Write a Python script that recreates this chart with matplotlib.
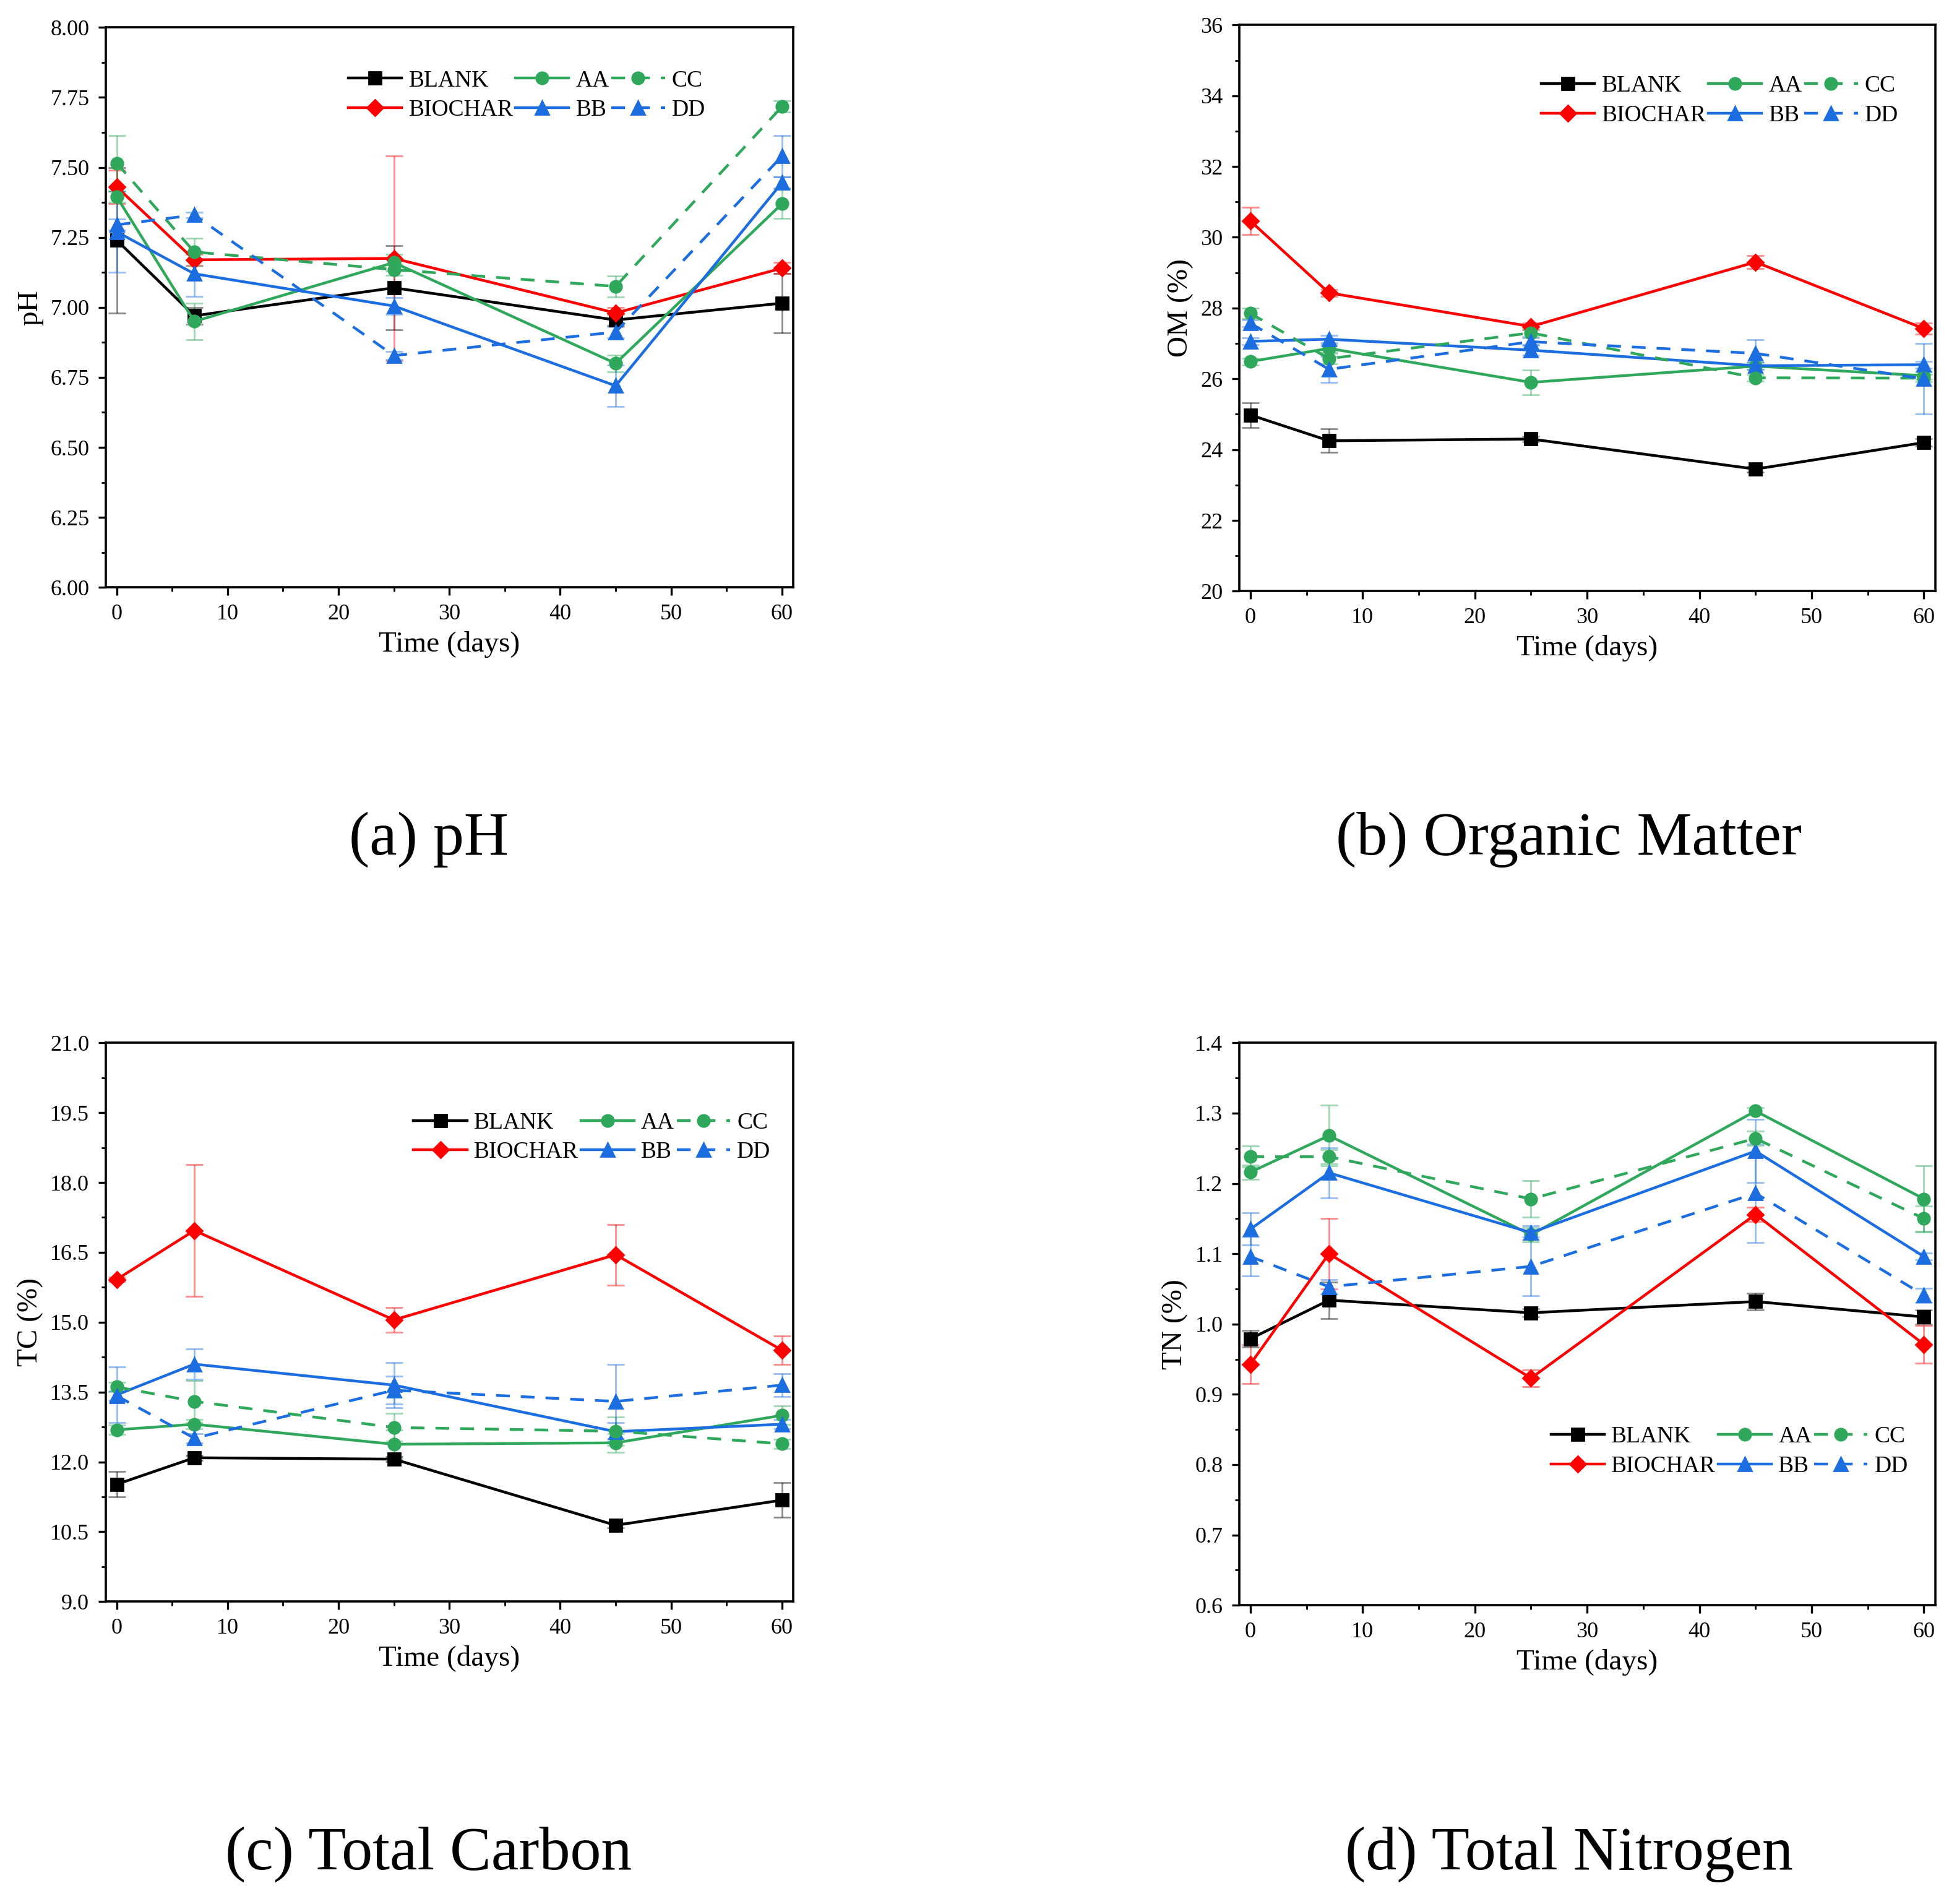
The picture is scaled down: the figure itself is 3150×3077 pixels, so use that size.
import matplotlib
matplotlib.use("Agg")
import matplotlib.pyplot as plt
from matplotlib.ticker import MultipleLocator, FormatStrFormatter

plt.rcParams["font.family"] = ["Liberation Serif", "DejaVu Serif"]

days = [0, 7, 25, 45, 60]
labels = ["BLANK", "BIOCHAR", "AA", "BB", "CC", "DD"]

# ---- pH ---------------------------------------------------------------
ph = {
    "BLANK":   [7.24, 6.97, 7.07, 6.955, 7.015],
    "BIOCHAR": [7.43, 7.17, 7.175, 6.98, 7.14],
    "AA":      [7.395, 6.95, 7.16, 6.80, 7.37],
    "BB":      [7.27, 7.12, 7.005, 6.72, 7.445],
    "CC":      [7.515, 7.198, 7.135, 7.075, 7.717],
    "DD":      [7.295, 7.33, 6.828, 6.912, 7.54],
}
ph_err = {
    "BLANK":   [0.26, 0.03, 0.15, 0.02, 0.105],
    "BIOCHAR": [0.06, 0.02, 0.365, 0.02, 0.02],
    "AA":      [0.02, 0.065, 0.03, 0.03, 0.053],
    "BB":      [0.145, 0.08, 0.03, 0.075, 0.02],
    "CC":      [0.10, 0.05, 0.02, 0.037, 0.02],
    "DD":      [0.02, 0.01, 0.015, 0.02, 0.075],
}

# ---- Organic matter ---------------------------------------------------
om = {
    "BLANK":   [24.98, 24.25, 24.3, 23.45, 24.2],
    "BIOCHAR": [30.46, 28.43, 27.48, 29.3, 27.42],
    "AA":      [26.49, 26.86, 25.9, 26.36, 26.09],
    "BB":      [27.06, 27.12, 26.81, 26.37, 26.4],
    "CC":      [27.85, 26.57, 27.3, 26.03, 26.02],
    "DD":      [27.57, 26.27, 27.05, 26.72, 26.0],
}
om_err = {
    "BLANK":   [0.35, 0.33, 0.08, 0.08, 0.1],
    "BIOCHAR": [0.38, 0.1, 0.1, 0.19, 0.15],
    "AA":      [0.1, 0.1, 0.35, 0.1, 0.1],
    "BB":      [0.1, 0.1, 0.15, 0.1, 0.1],
    "CC":      [0.15, 0.15, 0.1, 0.1, 0.1],
    "DD":      [0.1, 0.37, 0.1, 0.38, 1.0],
}

# ---- Total carbon -----------------------------------------------------
tc = {
    "BLANK":   [11.52, 12.09, 12.06, 10.64, 11.18],
    "BIOCHAR": [15.92, 16.97, 15.05, 16.45, 14.40],
    "AA":      [12.69, 12.81, 12.38, 12.41, 13.0],
    "BB":      [13.44, 14.10, 13.65, 12.65, 12.81],
    "CC":      [13.61, 13.30, 12.74, 12.66, 12.39],
    "DD":      [13.42, 12.51, 13.54, 13.30, 13.65],
}
tc_err = {
    "BLANK":   [0.27, 0.05, 0.05, 0.05, 0.37],
    "BIOCHAR": [0.05, 1.42, 0.27, 0.65, 0.30],
    "AA":      [0.1, 0.1, 0.3, 0.2, 0.2],
    "BB":      [0.6, 0.32, 0.48, 0.2, 0.1],
    "CC":      [0.1, 0.45, 0.3, 0.3, 0.1],
    "DD":      [0.1, 0.1, 0.3, 0.8, 0.25],
}

# ---- Total nitrogen ---------------------------------------------------
tn = {
    "BLANK":   [0.979, 1.034, 1.016, 1.032, 1.010],
    "BIOCHAR": [0.943, 1.10, 0.923, 1.156, 0.971],
    "AA":      [1.216, 1.268, 1.127, 1.303, 1.178],
    "BB":      [1.135, 1.215, 1.130, 1.246, 1.096],
    "CC":      [1.238, 1.238, 1.178, 1.264, 1.150],
    "DD":      [1.096, 1.053, 1.082, 1.186, 1.041],
}
tn_err = {
    "BLANK":   [0.012, 0.026, 0.006, 0.012, 0.01],
    "BIOCHAR": [0.028, 0.05, 0.012, 0.01, 0.027],
    "AA":      [0.01, 0.043, 0.01, 0.005, 0.047],
    "BB":      [0.023, 0.036, 0.01, 0.045, 0.005],
    "CC":      [0.015, 0.01, 0.026, 0.01, 0.018],
    "DD":      [0.028, 0.01, 0.042, 0.07, 0.01],
}

GREEN = "#2fa85c"
BLUE = "#1c6ee0"
STYLE = {
    "BLANK":   dict(color="black", marker="s", ls="-", ms=7),
    "BIOCHAR": dict(color="#ff0000", marker="D", ls="-", ms=6.5),
    "AA":      dict(color=GREEN, marker="o", ls="-", ms=7),
    "BB":      dict(color=BLUE, marker="^", ls="-", ms=8),
    "CC":      dict(color=GREEN, marker="o", ls=(0, (5, 4)), ms=7),
    "DD":      dict(color=BLUE, marker="^", ls=(0, (5, 4)), ms=8),
}

fig = plt.figure(figsize=(15.75, 15.385), dpi=200)

panels = [
    # rect, data, err, ylim, major, minor, fmt, ylabel, legend loc, anchor
    ([0.0542, 0.6915, 0.3527, 0.2941], ph, ph_err, (6.0, 8.0), 0.25, 0.125, "%.2f",
     "pH", "upper left", (0.353, 0.924)),
    ([0.6358, 0.6895, 0.3571, 0.2974], om, om_err, (20, 36), 2, 1, "%d",
     "OM (%)", "upper left", (0.434, 0.911)),
    ([0.0542, 0.1588, 0.3527, 0.2935], tc, tc_err, (9.0, 21.0), 1.5, 0.75, "%.1f",
     "TC (%)", "upper left", (0.448, 0.876)),
    ([0.6358, 0.1569, 0.3571, 0.2954], tn, tn_err, (0.6, 1.4), 0.1, 0.05, "%.1f",
     "TN (%)", "lower left", (0.448, 0.228)),
]

for rect, data, err, ylim, major, minor, fmt, ylabel, loc, anchor in panels:
    ax = fig.add_axes(rect)
    handles = []
    for name in labels:
        st = STYLE[name]
        ax.errorbar(days, data[name], yerr=err[name], fmt="none",
                    ecolor=st["color"], elinewidth=1.0, capsize=5, capthick=1.0,
                    alpha=0.45, zorder=2)
        h, = ax.plot(days, data[name], color=st["color"], ls=st["ls"],
                     marker=st["marker"], ms=st["ms"], lw=1.6, zorder=3,
                     label=name)
        handles.append(h)
    ax.set_xlim(-1, 61)
    ax.set_ylim(*ylim)
    ax.xaxis.set_major_locator(MultipleLocator(10))
    ax.xaxis.set_minor_locator(MultipleLocator(5))
    ax.yaxis.set_major_locator(MultipleLocator(major))
    ax.yaxis.set_minor_locator(MultipleLocator(minor))
    ax.yaxis.set_major_formatter(FormatStrFormatter(fmt))
    ax.tick_params(which="major", direction="out", length=4.5, width=1.2,
                   labelsize=13, pad=5)
    ax.tick_params(which="minor", direction="out", length=2.5, width=1.0)
    for sp in ax.spines.values():
        sp.set_linewidth(1.3)
    ax.set_xlabel("Time (days)", fontsize=17, labelpad=4)
    ax.set_ylabel(ylabel, fontsize=17, labelpad=4)
    ax.legend(handles=handles, ncol=3, loc=loc, bbox_to_anchor=anchor,
              frameon=False, fontsize=13.5, handlelength=2.3, handletextpad=0.3,
              columnspacing=0.1, labelspacing=0.35, borderaxespad=0,
              borderpad=0)

captions = [(0.22, 0.559, "(a) pH"), (0.805, 0.559, "(b) Organic Matter"),
            (0.22, 0.026, "(c) Total Carbon"), (0.805, 0.026, "(d) Total Nitrogen")]
for x, y, s in captions:
    fig.text(x, y, s, ha="center", va="center", fontsize=36)

fig.savefig("out.png", dpi=200)
